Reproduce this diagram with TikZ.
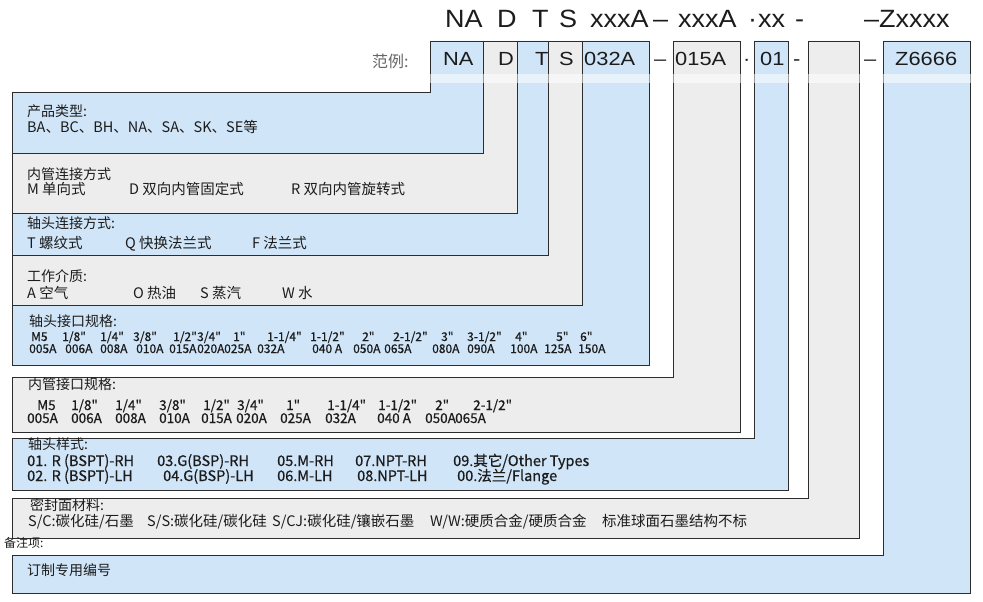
\documentclass[tikz,border=0pt]{standalone}
\usepackage{fontspec}
\setmainfont{Noto Sans CJK SC}[Ligatures=TeXOff]
\newfontfamily\semifont{Noto Sans CJK SC}[Ligatures=TeXOff,FakeBold=0.6]
\newfontfamily\headfont{Liberation Sans}[FakeStretch=1.08]
\newfontfamily\codefont{Liberation Sans}[FakeStretch=1.15]
\definecolor{bandblue}{RGB}{208,229,248}
\definecolor{bandgrey}{RGB}{237,237,237}
\definecolor{edge}{RGB}{45,45,45}
\definecolor{ink}{RGB}{28,28,28}
% one code field: column from the sample box down, then band to the left
% #1 col left, #2 col right, #3 band top, #4 band bottom, #5 fill, #6 name
\newcommand{\codeband}[6]{
  \draw [band,fill=#5] (12,#3) -- (#1,#3) -- (#1,41) -- (#2,41)
        -- (#2,#4) -- (12,#4) -- cycle;
  \coordinate (#6) at (12,#3);}

\begin{document}
\begin{tikzpicture}
[x=1pt,y=-1pt,
band/.style={draw=edge,line width=0.9pt},
txt/.style={anchor=base west,inner sep=0pt,text=ink,
  font=\fontsize{14}{16}\selectfont},
linetxt/.style={txt,font=\fontsize{14.5}{16}\selectfont},
sizetxt/.style={txt,font=\semifont\fontsize{12}{13}\selectfont},
bigsizetxt/.style={txt,font=\semifont\fontsize{13.5}{15}\selectfont},
styletxt/.style={txt,font=\semifont\fontsize{14.5}{16}\selectfont},
headtxt/.style={anchor=base west,inner sep=0pt,text=ink,
  font=\headfont\fontsize{25}{28}\selectfont},
codetxt/.style={anchor=base west,inner sep=0pt,text=ink,
  font=\codefont\fontsize{19}{22}\selectfont}]
\useasboundingbox (0,0) rectangle (983,602);

\codeband{430}{483}{92}{153}{bandblue}{fNA}
\codeband{483}{517}{153}{213}{bandgrey}{fD}
\codeband{517}{548}{213}{255}{bandblue}{fT}
\codeband{548}{582}{255}{305}{bandgrey}{fS}
\codeband{582}{649}{305}{365}{bandblue}{fA}
\codeband{673}{740}{377}{432}{bandgrey}{fB}
\codeband{754}{788}{438}{490}{bandblue}{fC}
\codeband{808}{859}{498}{538}{bandgrey}{fE}
\codeband{883}{970}{555}{593}{bandblue}{fZ}
\fill [white,opacity=0.5] (425,74) rectangle (976,83);

% model code
\node (hNA) [headtxt] at (445,28) {NA};
\node (hD) [headtxt] at (497,28) {D};
\node (hT) [headtxt] at (532,28) {T};
\node (hS) [headtxt] at (559,28) {S};
\node (hA) [headtxt] at (590,28) {xxxA};
\node (hd1) [headtxt] at (653,28) {–};
\node (hB) [headtxt] at (678,28) {xxxA};
\node (hdot) [headtxt] at (748,28) {·};
\node (hC) [headtxt] at (758,28) {xx};
\node (hd2) [headtxt] at (795,28) {-};
\node (hZ) [headtxt] at (864,28) {–Zxxxx};

% sample
\node (ex) [txt,text=black!60,font=\fontsize{16}{18}\selectfont] at (372,67) {范例:};
\node (sNA) [codetxt] at (443,66) {NA};
\node (sD) [codetxt] at (498,66) {D};
\node (sT) [codetxt] at (535,66) {T};
\node (sS) [codetxt] at (559,66) {S};
\node (sA) [codetxt] at (584,66) {032A};
\node (sd1) [codetxt] at (654,66) {–};
\node (sB) [codetxt] at (675,66) {015A};
\node (sdot) [codetxt] at (743,66) {·};
\node (sC) [codetxt] at (760,66) {01};
\node (sd2) [codetxt] at (793,66) {-};
\node (sd3) [codetxt] at (864,66) {–};
\node (sZ) [codetxt] at (895,66) {Z6666};

% bands
\node (t1) [txt] at (27,116) {产品类型:};
\node (t1a) [linetxt] at (27,132) {BA、BC、BH、NA、SA、SK、SE等};

\node (t2) [txt] at (27,179) {内管连接方式};
\foreach \x/\t [count=\i] in {27/{M 单向式},129/{D 双向内管固定式},291/{R 双向内管旋转式}}
  \node (t2\i) [linetxt] at (\x,194) {\t};

\node (t3) [txt] at (27,228.5) {轴头连接方式:};
\foreach \x/\t [count=\i] in {27/{T 螺纹式},125/{Q 快换法兰式},252/{F 法兰式}}
  \node (t3\i) [linetxt] at (\x,248) {\t};

\node (t4) [txt] at (27,281) {工作介质:};
\foreach \x/\t [count=\i] in {27/{A 空气},133/{O 热油},200/{S 蒸汽},282/{W 水}}
  \node (t4\i) [linetxt] at (\x,298) {\t};

\node (t5) [txt] at (29,326) {轴头接口规格:};
\foreach \x/\t [count=\i] in {31/M5,62/{1/8"},100/{1/4"},133/{3/8"},173/{1/2"},
    197/{3/4"},233/1",267/{1-1/4"},310/{1-1/2"},362/2",393/{2-1/2"},441/3",
    467/{3-1/2"},515/4",556/5",580/6"}
  \node (t5a\i) [sizetxt] at (\x,341) {\t};
\foreach \x/\t [count=\i] in {29/005A,65/006A,100/008A,136/010A,169/015A,197/020A,
    224/025A,257/032A,312/{040 A},353/050A,384/065A,432/080A,467/090A,510/100A,
    544/125A,578/150A}
  \node (t5b\i) [sizetxt] at (\x,353) {\t};

\node (t6) [txt] at (28,389.5) {内管接口规格:};
\foreach \x/\t [count=\i] in {37/M5,71/{1/8"},115/{1/4"},159/{3/8"},203/{1/2"},
    237/{3/4"},286/1",327/{1-1/4"},378/{1-1/2"},435/2",473/{2-1/2"}}
  \node (t6a\i) [bigsizetxt] at (\x,410) {\t};
\foreach \x/\t [count=\i] in {27/005A,71/006A,115/008A,159/010A,201/015A,236/020A,
    280/025A,325/032A,377/{040 A},425/050A,455/065A}
  \node (t6b\i) [bigsizetxt] at (\x,423) {\t};

\node (t7) [txt] at (28,449) {轴头样式:};
\foreach \x/\t [count=\i] in {27/{01. R (BSPT)-RH},157/{03.G(BSP)-RH},277/{05.M-RH},
    355/{07.NPT-RH},453/{09.其它/Other Types}}
  \node (t7a\i) [styletxt] at (\x,466) {\t};
\foreach \x/\t [count=\i] in {27/{02. R (BSPT)-LH},163/{04.G(BSP)-LH},277/{06.M-LH},
    357/{08.NPT-LH},457/{00.法兰/Flange}}
  \node (t7b\i) [styletxt] at (\x,481) {\t};

\node (t8) [txt] at (30,510) {密封面材料:};
\foreach \x/\t [count=\i] in {28/{S/C:碳化硅/石墨},147/{S/S:碳化硅/碳化硅},
    272/{S/CJ:碳化硅/镶嵌石墨},430/{W/W:硬质合金/硬质合金},602/{标准球面石墨结构不标}}
  \node (t8\i) [linetxt] at (\x,526) {\t};

\node (note) [txt,font=\fontsize{12}{13}\selectfont] at (4,547) {备注项:};
\node (t9) [txt] at (27,575) {订制专用编号};
\end{tikzpicture}
\end{document}
